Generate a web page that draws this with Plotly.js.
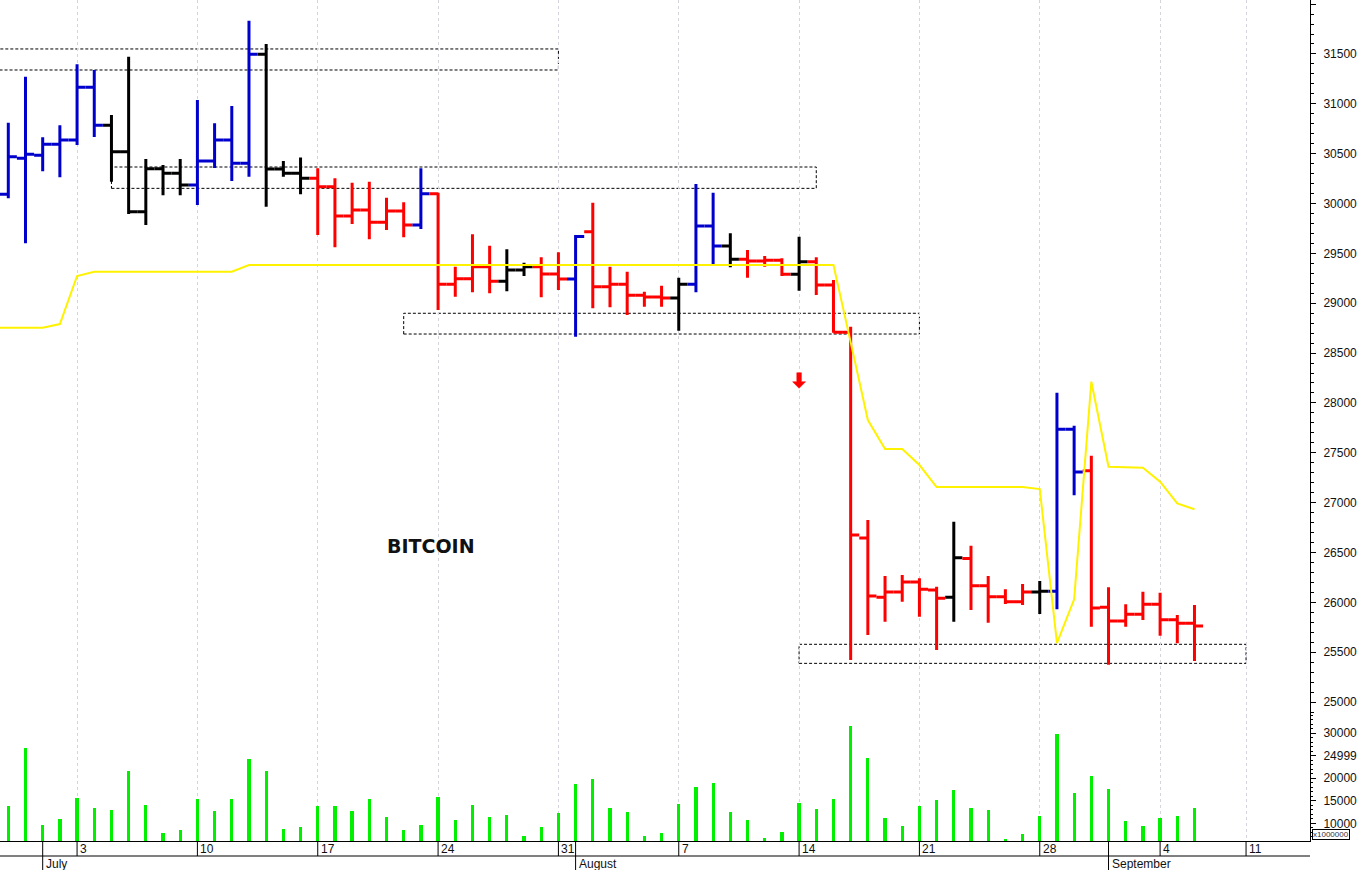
<!DOCTYPE html>
<html><head><meta charset="utf-8">
<script src="https://cdn.plot.ly/plotly-3.0.1.min.js"></script>
<style>html,body{margin:0;padding:0;background:#fff;}#chart{width:1358px;height:870px;}</style>
</head><body><div id="chart"></div>
<script>
// ---------- DATA ----------
const dates = [
 '2023-06-29','2023-06-30','2023-07-01','2023-07-02','2023-07-03','2023-07-04','2023-07-05','2023-07-06','2023-07-07','2023-07-08',
 '2023-07-09','2023-07-10','2023-07-11','2023-07-12','2023-07-13','2023-07-14','2023-07-15','2023-07-16','2023-07-17','2023-07-18',
 '2023-07-19','2023-07-20','2023-07-21','2023-07-22','2023-07-23','2023-07-24','2023-07-25','2023-07-26','2023-07-27','2023-07-28',
 '2023-07-29','2023-07-30','2023-07-31','2023-08-01','2023-08-02','2023-08-03','2023-08-04','2023-08-05','2023-08-06','2023-08-07',
 '2023-08-08','2023-08-09','2023-08-10','2023-08-11','2023-08-12','2023-08-13','2023-08-14','2023-08-15','2023-08-16','2023-08-17',
 '2023-08-18','2023-08-19','2023-08-20','2023-08-21','2023-08-22','2023-08-23','2023-08-24','2023-08-25','2023-08-26','2023-08-27',
 '2023-08-28','2023-08-29','2023-08-30','2023-08-31','2023-09-01','2023-09-02','2023-09-03','2023-09-04','2023-09-05','2023-09-06'];

const open = [30092,30453,30483,30594,30637,31165,30784,30520,29918,30349,
 30303,30186,30426,30637,30403,31496,30346,30303,30253,30168,
 29875,29935,29811,29925,29784,30098,29190,29246,29366,29220,
 29333,29366,29293,29243,29717,29166,29190,29079,29062,29052,
 29190,29774,29574,29440,29423,29430,29290,29416,29183,28708,
 26645,26050,26103,26204,26124,26050,26440,26166,26056,26006,
 26103,26110,27735,27320,25950,25812,25880,25980,25825,25789];

const high = [30810,31272,30664,30784,31396,31339,30888,31472,30446,30386,
 30446,31038,30804,30978,31834,31600,30426,30461,30353,30253,
 30209,30219,30058,30012,30353,30108,29366,29691,29577,29541,
 29406,29460,29511,29684,30008,29366,29316,29115,29176,29256,
 30196,30108,29701,29534,29473,29450,29667,29460,29233,28764,
 26825,26264,26274,26241,26156,26808,26568,26264,26130,26184,
 26214,28102,27771,27470,26150,25980,26106,26096,25873,25973];

const low = [30052,29601,30323,30263,30587,30667,30219,29895,29784,30082,
 30082,29985,30356,30226,30269,29968,30269,30093,29684,29561,
 29794,29641,29734,29661,29744,28932,29065,29109,29099,29119,
 29273,29059,29132,28664,28949,28959,28882,28965,28965,28724,
 29109,29373,29360,29256,29366,29273,29125,29082,28704,25421,
 25672,25805,26006,25856,25522,25805,25923,25795,25983,25973,
 25883,25930,27073,25755,25374,25755,25822,25665,25589,25411];

const close = [30469,30493,30594,30637,31165,30784,30520,29918,30349,30303,
 30186,30426,30637,30403,31496,30346,30303,30253,30168,29875,
 29935,29811,29925,29784,30098,29190,29246,29366,29220,29333,
 29366,29293,29243,29670,29166,29190,29079,29062,29052,29190,
 29774,29574,29440,29423,29430,29290,29416,29183,28708,26675,
 26063,26103,26204,26130,26040,26447,26166,26056,26006,26103,
 26110,27735,27307,25943,25812,25880,25980,25825,25789,25762];

// bar state: u = up (blue), n = neutral (black), d = down (red)
const signal = ['u','u','u','u','u','u','n','n','n','n',
 'n','u','u','u','u','n','n','n','d','d',
 'd','d','d','d','u','d','d','d','d','n',
 'n','d','d','u','d','d','d','d','d','n',
 'u','u','n','d','d','d','n','d','d','d',
 'd','d','d','d','d','n','d','d','d','d',
 'n','u','u','d','d','d','d','d','d','d'];

// yellow stop line (starts one day before the first visible bar)
const stopDates = ['2023-06-28'].concat(dates);
const stopLine = [28754,
 28754,28754,28754,28791,29273,29316,29316,29316,29316,29316,
 29316,29316,29316,29316,29383,29383,29383,29383,29383,29383,
 29383,29383,29383,29383,29383,29383,29383,29383,29383,29383,
 29383,29383,29383,29383,29383,29383,29383,29383,29383,29383,
 29383,29383,29383,29383,29383,29383,29383,29383,29383,28610,
 27828,27538,27538,27377,27156,27156,27156,27156,27156,27156,
 27136,25592,26030,28213,27360,27354,27350,27210,26993,26933];

const volume = [13844,26798,9622,10955,15688,13400,12955,21688,14000,7911,
 8445,15333,12733,15333,24221,21621,8667,9111,13777,13777,
 12733,15333,11400,8511,9622,15844,10733,14000,11400,11778,
 7111,9245,12222,18666,19777,13400,12444,7178,7845,14222,
 17999,18888,12444,10667,6733,8000,14577,13111,15399,31620,
 24443,11111,9400,13911,15111,17399,13400,12889,6445,7622,
 11622,29842,16666,20577,17621,10511,9400,11111,11622,13333];

const weekTickDates  = ['2023-07-03','2023-07-10','2023-07-17','2023-07-24','2023-07-31','2023-08-07','2023-08-14','2023-08-21','2023-08-28','2023-09-04','2023-09-11'];
const weekTickLabels = ['3','10','17','24','31','7','14','21','28','4','11'];
const monthDates  = ['2023-07-01','2023-08-01','2023-09-01'];
const monthLabels = ['July','August','September'];

const priceTicks = [25000,25500,26000,26500,27000,27500,28000,28500,29000,29500,30000,30500,31000,31500,32000];
const priceTickText = ['25000','25500','26000','26500','27000','27500','28000','28500','29000','29500','30000','30500','31000','31500',''];
const volTicks = [10000,15000,20000,24999,30000];
const volTickText = ['10000','15000','20000','24999','30000'];

const zoneStart = ['2023-06-25','2023-07-05','2023-07-22','2023-08-14'];
const zoneEnd   = ['2023-07-31','2023-08-15','2023-08-21','2023-09-11'];
const zoneLow   = [31339,30152,28691,25388];
const zoneHigh  = [31550,30366,28899,25579];

const sellSignalDates  = ['2023-08-14'];
const sellSignalPrices = [28303];

const chartLabel = 'BITCOIN';
const volUnitLabel = 'x1000000';

// ---------- HELPERS ----------
function toUTC(d){ return new Date(d + 'T00:00:00Z').getTime(); }
const DAY = 86400000;
function slotOf(d){
  const idx = dates.indexOf(d);
  if (idx >= 0) return idx;
  const t = toUTC(d);
  if (t < toUTC(dates[0])) return (t - toUTC(dates[0])) / DAY;
  // future: business days after last bar
  let s = dates.length - 1, cur = toUTC(dates[dates.length - 1]);
  while (cur < t) { cur += DAY; const wd = new Date(cur).getUTCDay(); if (wd !== 0 && wd !== 6) s++; }
  return s;
}
const xs = dates.map((d, i) => i);

// pixel geometry of the plot area
const PLOT_H = 841, PLOT_W = 1310;
const py = p => (PLOT_H - p) / PLOT_H;        // pixel row -> paper y
const priceDomBottom = py(715);
const XR = [-0.483, 75.72];
const YR = [24870, 32041];
const VR = [6067, 34064];
const pxX = (XR[1] - XR[0]) / PLOT_W;          // slots per px
const pxY = (YR[1] - YR[0]) / 715;             // price per px

const colorMap = {u:'#0000cc', n:'#000000', d:'#ff0000'};

// ---------- TRACES ----------
const traces = [];
['n','u','d'].forEach(k => {
  const idx = xs.filter(i => signal[i] === k);
  traces.push({
    type:'ohlc', xaxis:'x', yaxis:'y',
    x: idx.map(i => xs[i]), open: idx.map(i => open[i]), high: idx.map(i => high[i]),
    low: idx.map(i => low[i]), close: idx.map(i => close[i]),
    tickwidth: 0.5,
    increasing:{line:{color:colorMap[k], width:3}},
    decreasing:{line:{color:colorMap[k], width:3}},
    hoverinfo:'skip', showlegend:false
  });
});
traces.push({
  type:'scatter', mode:'lines', x: stopDates.map(slotOf), y: stopLine, xaxis:'x', yaxis:'y',
  line:{color:'#fff200', width:2}, hoverinfo:'skip', showlegend:false
});
traces.push({
  type:'bar', x: xs, y: volume, xaxis:'x', yaxis:'y2', width: 0.19,
  marker:{color:'#00f000', line:{width:0}}, hoverinfo:'skip', showlegend:false
});

// ---------- SHAPES / ANNOTATIONS ----------
const shapes = [];
for (let i = 0; i < zoneStart.length; i++) {
  shapes.push({type:'rect', xref:'x', yref:'y', layer:'below',
    x0: slotOf(zoneStart[i]), x1: slotOf(zoneEnd[i]), y0: zoneLow[i], y1: zoneHigh[i],
    line:{color:'#000', width:1, dash:'3px,2px'}, fillcolor:'rgba(0,0,0,0)'});
}
sellSignalDates.forEach((d, i) => {
  const s = slotOf(d), top = sellSignalPrices[i];
  const sw = 2.3 * pxX, hw = 6.5 * pxX, hs = top - 9 * pxY, tip = top - 15.6 * pxY;
  shapes.push({type:'path', xref:'x', yref:'y', fillcolor:'#ff0000', line:{color:'#ff0000', width:0.5},
    path:`M ${s-sw},${top} L ${s+sw},${top} L ${s+sw},${hs} L ${s+hw},${hs} L ${s},${tip} L ${s-hw},${hs} L ${s-sw},${hs} Z`});
});
// date-scale frame under the plot
shapes.push({type:'line', xref:'paper', yref:'paper', x0:0, x1:1, y0:py(856), y1:py(856), line:{color:'#000', width:1}});
weekTickDates.forEach(d => {
  shapes.push({type:'line', xref:'x', yref:'paper', x0:slotOf(d), x1:slotOf(d), y0:0, y1:py(856), line:{color:'#000', width:1}});
});
monthDates.forEach(d => {
  shapes.push({type:'line', xref:'x', yref:'paper', x0:slotOf(d), x1:slotOf(d), y0:0, y1:py(870), line:{color:'#000', width:1}});
});

const annotations = [];
const axFont = {family:'Liberation Sans, Arial, sans-serif', size:12, color:'#111'};
weekTickDates.forEach((d, i) => {
  annotations.push({xref:'x', yref:'paper', x:slotOf(d), y:py(848.5), xanchor:'left', yanchor:'middle',
    xshift:1, text:weekTickLabels[i], showarrow:false, font:axFont});
});
monthDates.forEach((d, i) => {
  annotations.push({xref:'x', yref:'paper', x:slotOf(d), y:py(863.5), xanchor:'left', yanchor:'middle',
    xshift:1, text:monthLabels[i], showarrow:false, font:axFont});
});
annotations.push({xref:'paper', yref:'paper', x:430.5/PLOT_W, y:py(546), xanchor:'center', yanchor:'middle',
  text:'<b>' + chartLabel + '</b>', showarrow:false, font:{family:'DejaVu Sans, Verdana, sans-serif', size:19, color:'#111'}});
annotations.push({xref:'paper', yref:'paper', x:1 + 2/PLOT_W, y:py(840), xanchor:'left', yanchor:'bottom',
  text:volUnitLabel, showarrow:false, font:{family:'Liberation Sans, Arial, sans-serif', size:8, color:'#334'},
  bordercolor:'#000', borderwidth:1, borderpad:0, bgcolor:'#fff'});

const layout = {
  width:1358, height:870, margin:{l:0, r:48, t:0, b:29, pad:0},
  paper_bgcolor:'#fff', plot_bgcolor:'#fff', showlegend:false, dragmode:false,
  xaxis:{range:XR, anchor:'y2', tickmode:'array', tickvals:weekTickDates.map(slotOf),
    showticklabels:false, ticks:'', showgrid:true, gridcolor:'#d4d4de', griddash:'3px,3px', gridwidth:1,
    showline:true, linecolor:'#000', linewidth:1, zeroline:false, rangeslider:{visible:false}, fixedrange:true},
  yaxis:{domain:[priceDomBottom, 1], range:YR, side:'right', anchor:'x', tickmode:'array',
    tickvals:priceTicks, ticktext:priceTickText, ticks:'outside', ticklen:5, tickwidth:1, tickcolor:'#000',
    ticklabelstandoff:5, showline:true, linecolor:'#000', linewidth:1, showgrid:false, zeroline:false,
    minor:{tick0:25000, dtick:100, ticks:'outside', ticklen:3, tickcolor:'#000', showgrid:false},
    tickfont:axFont, fixedrange:true},
  yaxis2:{domain:[0, priceDomBottom], range:VR, side:'right', anchor:'x', tickmode:'array',
    tickvals:volTicks, ticktext:volTickText, ticks:'outside', ticklen:5, tickwidth:1, tickcolor:'#000',
    ticklabelstandoff:5, showline:true, linecolor:'#000', linewidth:1, showgrid:false, zeroline:false,
    minor:{tick0:10000, dtick:1000, ticks:'outside', ticklen:2, tickcolor:'#000', showgrid:false},
    tickfont:axFont, fixedrange:true},
  bargap:0, shapes:shapes, annotations:annotations
};

Plotly.newPlot('chart', traces, layout, {staticPlot:true, displayModeBar:false});
</script></body></html>
